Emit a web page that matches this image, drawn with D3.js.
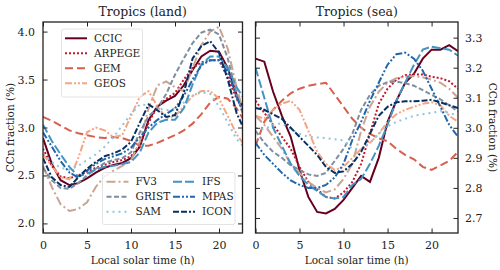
<!DOCTYPE html>
<html>
<head>
<meta charset="utf-8">
<script src="https://cdn.jsdelivr.net/npm/d3@7"></script>
<style>
  body { margin: 0; background: #fff; }
  text { font-family: "DejaVu Serif", serif; fill: #222; }
</style>
</head>
<body>
<svg id="chart" width="500" height="270"></svg>
<script>
// hours 0..23
const hours = d3.range(24);
const models = ["CCIC", "ARPEGE", "GEM", "GEOS", "FV3", "GRIST", "SAM", "IFS", "MPAS", "ICON"];

// Tropics (land), CCn fraction (%)
const landCCIC   = [2.89, 2.62, 2.45, 2.40, 2.42, 2.47, 2.53, 2.58, 2.61, 2.63, 2.68, 2.80, 3.08, 3.22, 3.28, 3.33, 3.44, 3.60, 3.74, 3.80, 3.79, 3.62, 3.34, 3.15];
const landARPEGE = [2.78, 2.60, 2.49, 2.47, 2.50, 2.54, 2.58, 2.61, 2.64, 2.66, 2.70, 2.82, 3.05, 3.22, 3.30, 3.36, 3.50, 3.62, 3.68, 3.70, 3.70, 3.52, 3.30, 3.15];
const landGEM    = [3.11, 3.07, 3.02, 2.97, 2.94, 2.92, 2.90, 2.89, 2.90, 2.89, 2.86, 2.81, 2.81, 2.84, 2.88, 2.92, 2.97, 3.04, 3.14, 3.26, 3.32, 3.30, 3.20, 3.05];
const landGEOS   = [2.72, 2.60, 2.48, 2.46, 2.68, 2.95, 3.00, 2.97, 2.90, 2.92, 3.12, 3.32, 3.38, 3.22, 3.10, 3.12, 3.22, 3.33, 3.38, 3.38, 3.30, 3.12, 2.93, 2.80];
const landFV3    = [2.60, 2.38, 2.20, 2.13, 2.15, 2.22, 2.38, 2.49, 2.55, 2.60, 2.66, 2.85, 3.20, 3.44, 3.48, 3.42, 3.38, 3.62, 3.86, 4.00, 4.05, 3.82, 3.42, 3.08];
const landGRIST  = [2.58, 2.45, 2.37, 2.36, 2.42, 2.50, 2.57, 2.63, 2.66, 2.68, 2.74, 2.95, 3.12, 3.20, 3.35, 3.55, 3.72, 3.88, 3.99, 4.02, 3.97, 3.72, 3.35, 3.05];
const landSAM    = [2.72, 2.64, 2.58, 2.56, 2.60, 2.66, 2.72, 2.80, 2.90, 3.02, 3.14, 3.24, 3.23, 3.20, 3.18, 3.20, 3.26, 3.33, 3.37, 3.35, 3.22, 3.05, 2.88, 2.78];
const landIFS    = [3.03, 2.86, 2.72, 2.59, 2.49, 2.52, 2.56, 2.59, 2.60, 2.62, 2.64, 2.74, 2.95, 3.05, 3.08, 3.08, 3.20, 3.45, 3.66, 3.74, 3.74, 3.62, 3.42, 3.28];
const landMPAS   = [2.95, 2.80, 2.65, 2.53, 2.48, 2.55, 2.62, 2.67, 2.70, 2.73, 2.79, 2.90, 3.00, 3.08, 3.14, 3.20, 3.33, 3.50, 3.65, 3.70, 3.70, 3.58, 3.32, 3.10];
const landICON   = [2.68, 2.48, 2.40, 2.38, 2.48, 2.57, 2.64, 2.70, 2.73, 2.77, 2.85, 3.05, 3.24, 3.18, 3.11, 3.13, 3.36, 3.72, 3.85, 3.90, 3.78, 3.50, 3.15, 2.95];

// Tropics (sea)
const seaCCIC   = [3.23, 3.22, 3.12, 3.04, 2.97, 2.86, 2.77, 2.72, 2.715, 2.73, 2.76, 2.80, 2.84, 2.82, 2.90, 3.02, 3.09, 3.15, 3.18, 3.23, 3.26, 3.26, 3.275, 3.255];
const seaARPEGE = [3.09, 3.05, 3.01, 2.97, 2.93, 2.87, 2.82, 2.795, 2.77, 2.765, 2.785, 2.82, 2.88, 2.98, 3.08, 3.13, 3.16, 3.175, 3.178, 3.177, 3.17, 3.165, 3.155, 3.13];
const seaGEM    = [2.94, 3.02, 3.06, 3.09, 3.115, 3.13, 3.14, 3.145, 3.15, 3.11, 3.07, 3.03, 3.00, 2.98, 2.965, 2.955, 2.93, 2.91, 2.895, 2.87, 2.86, 2.875, 2.89, 2.92];
const seaGEOS   = [3.04, 3.03, 3.06, 3.08, 3.09, 3.06, 2.99, 2.92, 2.88, 2.86, 2.87, 2.90, 2.93, 2.95, 2.98, 3.02, 3.045, 3.06, 3.07, 3.08, 3.085, 3.075, 3.04, 3.02];
const seaFV3    = [3.04, 3.01, 2.97, 2.93, 2.88, 2.85, 2.82, 2.80, 2.785, 2.795, 2.83, 2.88, 2.99, 3.07, 3.12, 3.15, 3.165, 3.17, 3.172, 3.168, 3.16, 3.15, 3.13, 3.10];
const seaGRIST  = [2.99, 2.95, 2.92, 2.90, 2.875, 2.86, 2.845, 2.84, 2.85, 2.89, 2.93, 2.98, 3.06, 3.11, 3.14, 3.152, 3.154, 3.148, 3.14, 3.125, 3.11, 3.095, 3.075, 3.054];
const seaSAM    = [3.00, 2.995, 3.01, 3.015, 2.995, 2.98, 2.97, 2.968, 2.966, 2.962, 2.958, 2.93, 2.93, 2.95, 2.98, 3.005, 3.02, 3.03, 3.04, 3.045, 3.05, 3.055, 3.05, 3.04];
const seaIFS    = [3.20, 3.10, 3.00, 2.94, 2.88, 2.84, 2.81, 2.79, 2.77, 2.765, 2.77, 2.81, 2.83, 2.88, 2.94, 3.01, 3.09, 3.15, 3.21, 3.26, 3.27, 3.265, 3.26, 3.24];
const seaMPAS   = [2.95, 2.91, 2.88, 2.85, 2.825, 2.81, 2.80, 2.80, 2.81, 2.835, 2.88, 2.96, 3.02, 3.09, 3.15, 3.21, 3.245, 3.25, 3.23, 3.19, 3.13, 3.07, 3.01, 2.97];
const seaICON   = [3.066, 3.06, 3.045, 3.03, 3.00, 2.97, 2.94, 2.91, 2.87, 2.85, 2.855, 2.88, 2.92, 2.98, 3.04, 3.07, 3.085, 3.088, 3.088, 3.09, 3.093, 3.085, 3.075, 3.066];

const landSeries = [landCCIC, landARPEGE, landGEM, landGEOS, landFV3, landGRIST, landSAM, landIFS, landMPAS, landICON];
const seaSeries  = [seaCCIC, seaARPEGE, seaGEM, seaGEOS, seaFV3, seaGRIST, seaSAM, seaIFS, seaMPAS, seaICON];

const xTicks = [0, 5, 10, 15, 20];
const landYTicks = [2.0, 2.5, 3.0, 3.5, 4.0];
const seaYTicks = [2.7, 2.8, 2.9, 3.0, 3.1, 3.2, 3.3];

// styles per model
const colors = ["#67001f", "#c0182f", "#d6604d", "#f4a582", "#c9a594", "#7c8fa0", "#92c5de", "#4393c3", "#2166ac", "#053061"];
const dashes = [null, "2,2", "8,4", "7,2,2,2,2,2", "9,3,2,3", "5,2.5", "2,4", "9,3", "7,2,2,2,2,2", "6,2,6,2,2,2"];

const svg = d3.select("#chart");
const plotTop = 22, plotBottom = 233;

function panel(opts) {
  const x = d3.scaleLinear().domain([0, opts.xmax]).range([opts.left, opts.right]);
  const y = d3.scaleLinear().domain(opts.ydom).range([plotBottom, plotTop]);
  const g = svg.append("g");

  const clipId = "clip-" + opts.name;
  svg.append("clipPath").attr("id", clipId)
    .append("rect").attr("x", opts.left).attr("y", plotTop)
    .attr("width", opts.right - opts.left).attr("height", plotBottom - plotTop);

  const line = d3.line().x((d, i) => x(hours[i])).y(d => y(d));
  const lines = g.append("g").attr("clip-path", `url(#${clipId})`);
  opts.series.forEach((s, k) => {
    lines.append("path")
      .attr("d", line(s))
      .attr("fill", "none")
      .attr("stroke", colors[k])
      .attr("stroke-width", 2)
      .attr("stroke-dasharray", dashes[k]);
  });

  // axes with inward ticks on every side
  const tl = 4.5;
  g.append("g").attr("transform", `translate(0,${plotBottom})`)
    .call(d3.axisBottom(x).tickValues(xTicks).tickSize(-tl).tickPadding(8).tickFormat(d3.format("d")));
  g.append("g").attr("transform", `translate(0,${plotTop})`)
    .call(d3.axisTop(x).tickValues(xTicks).tickSize(-tl).tickFormat(""));
  g.append("g").attr("transform", `translate(${opts.left},0)`)
    .call(d3.axisLeft(y).tickValues(opts.yticks).tickSize(-tl).tickPadding(8)
      .tickFormat(opts.labelSide === "left" ? d3.format(".1f") : ""));
  g.append("g").attr("transform", `translate(${opts.right},0)`)
    .call(d3.axisRight(y).tickValues(opts.yticks).tickSize(-tl).tickPadding(7)
      .tickFormat(opts.labelSide === "right" ? d3.format(".1f") : ""));

  g.selectAll(".domain").remove();
  g.selectAll(".tick line").attr("stroke", "#222").attr("stroke-width", 1);
  g.selectAll(".tick text").style("font-size", "11px").attr("fill", "#222");

  g.append("rect")
    .attr("x", opts.left).attr("y", plotTop)
    .attr("width", opts.right - opts.left).attr("height", plotBottom - plotTop)
    .attr("fill", "none").attr("stroke", "#222").attr("stroke-width", 1.3);

  g.append("text")
    .attr("x", (opts.left + opts.right) / 2).attr("y", 16)
    .attr("text-anchor", "middle").style("font-size", "12.5px")
    .text(opts.title);
  g.append("text")
    .attr("x", (opts.left + opts.right) / 2).attr("y", 264)
    .attr("text-anchor", "middle").style("font-size", "10.5px")
    .text("Local solar time (h)");

  const ly = (plotTop + plotBottom) / 2;
  const lx = opts.labelSide === "left" ? 10 : 493;
  g.append("text")
    .attr("transform", `translate(${lx},${ly}) rotate(${opts.labelSide === "left" ? -90 : 90})`)
    .attr("text-anchor", "middle").attr("dy", "0.35em").style("font-size", "10.5px")
    .text("CCn fraction (%)");
  return g;
}

const gLand = panel({ name: "land", title: "Tropics (land)", left: 43, right: 242.5, xmax: 22.67,
  ydom: [1.9, 4.1], yticks: landYTicks, series: landSeries, labelSide: "left" });
panel({ name: "sea", title: "Tropics (sea)", left: 255.5, right: 458, xmax: 23,
  ydom: [2.65, 3.352], yticks: seaYTicks, series: seaSeries, labelSide: "right" });

// legends
function legend(x0, y0, w, h, cols) {
  const lg = gLand.append("g");
  lg.append("rect").attr("x", x0).attr("y", y0).attr("width", w).attr("height", h)
    .attr("rx", 2).attr("fill", "#fff").attr("fill-opacity", 0.85)
    .attr("stroke", "#dcdcdc").attr("stroke-width", 0.8);
  cols.forEach(col => {
    col.items.forEach((k, r) => {
      const yy = y0 + 9.3 + r * 15;
      lg.append("line")
        .attr("x1", col.x).attr("x2", col.x + 22).attr("y1", yy).attr("y2", yy)
        .attr("stroke", colors[k]).attr("stroke-width", 2)
        .attr("stroke-dasharray", dashes[k]);
      lg.append("text").attr("x", col.x + 29).attr("y", yy).attr("dy", "0.35em")
        .style("font-size", "10.5px").text(models[k]);
    });
  });
}
legend(61.5, 29, 81, 68, [{ x: 65, items: [0, 1, 2, 3] }]);
legend(102.5, 172.5, 132.5, 52, [{ x: 106.5, items: [4, 5, 6] }, { x: 173, items: [7, 8, 9] }]);
</script>
</body>
</html>
